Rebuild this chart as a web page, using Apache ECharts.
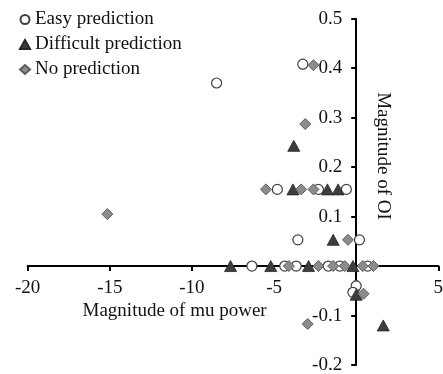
<!DOCTYPE html>
<html>
<head>
<meta charset="utf-8">
<script src="https://cdn.jsdelivr.net/npm/echarts@6/dist/echarts.min.js"></script>
<style>
  html, body { margin: 0; padding: 0; background: #fff; }
  #chart { width: 443px; height: 374px; }
</style>
</head>
<body>
<div id="chart"></div>
<script>
// values
const easyX = [-8.5, -3.25, -4.8, -2.3, -0.6, -3.55, 0.2, -6.35, -4.35, -3.65, -1.7, -1.0, 0.7, 0.0, -0.2]
const easyY = [0.37, 0.408, 0.155, 0.155, 0.155, 0.053, 0.053, 0, 0, 0, 0, 0, 0, -0.04, -0.053]

const hardX = [-3.8, -3.85, -1.75, -1.1, -1.4, -7.65, -5.2, -2.9, -0.2, 0.0, 1.65]
const hardY = [0.243, 0.155, 0.155, 0.155, 0.053, 0, 0, 0, 0, -0.058, -0.12]

const noneX = [-15.15, -2.6, -3.1, -5.5, -3.35, -2.6, -0.5, -4.1, -2.3, -1.4, -0.7, 0.4, 1.05, 0.45, -2.95]
const noneY = [0.105, 0.406, 0.287, 0.155, 0.155, 0.155, 0.053, 0, 0, 0, 0, 0, 0, -0.056, -0.117]

const seriesNames = ['Easy prediction', 'Difficult prediction', 'No prediction']

const font = 'Liberation Serif'

// plot area in px
const W = 443, H = 374
const gridL = 27.7, gridR = 4.7, gridT = 18.7, gridB = 9
const xMin = -20, xMax = 5, yMin = -0.2, yMax = 0.5

// axes cross at the origin: shift each axis from its grid edge to zero
const plotW = W - gridL - gridR
const plotH = H - gridT - gridB
const xAxisShift = -plotH * (0 - yMin) / (yMax - yMin)
const yAxisShift = -plotW * (0 - xMin) / (xMax - xMin)

function pairs(xs, ys) {
  return xs.map((x, i) => [x, ys[i]])
}

const chart = echarts.init(document.getElementById('chart'), null, { renderer: 'canvas' })

chart.setOption({
  animation: false,
  grid: { left: gridL, right: gridR, top: gridT, bottom: gridB, containLabel: false, outerBoundsMode: 'none' },
  legend: {
    orient: 'vertical',
    left: 14,
    top: 5,
    itemWidth: 10,
    itemHeight: 9,
    itemGap: 6,
    textStyle: { fontFamily: font, fontSize: 19, lineHeight: 19, color: '#111' },
    data: seriesNames
  },
  xAxis: {
    type: 'value',
    position: 'bottom',
    offset: xAxisShift,
    min: xMin,
    max: xMax,
    interval: 5,
    splitLine: { show: false },
    axisLine: { onZero: false, lineStyle: { color: '#000', width: 2 } },
    axisTick: { show: true, length: 5, lineStyle: { color: '#000', width: 2 } },
    axisLabel: { fontFamily: font, fontSize: 19, color: '#111', margin: 12 }
  },
  yAxis: {
    type: 'value',
    position: 'left',
    offset: yAxisShift,
    min: yMin,
    max: yMax,
    interval: 0.1,
    splitLine: { show: false },
    axisLine: { onZero: false, lineStyle: { color: '#000', width: 2 } },
    axisTick: { show: true, length: 5, lineStyle: { color: '#000', width: 2 } },
    axisLabel: {
      fontFamily: font, fontSize: 19, color: '#111', margin: 14,
      formatter: v => (Math.abs(v) < 1e-9 ? '' : String(Math.round(v * 10) / 10))
    }
  },
  graphic: [
    {
      type: 'text', x: 266.7, y: 311,
      style: { text: 'Magnitude of mu power', fontFamily: font, fontSize: 19, fill: '#111', align: 'right', verticalAlign: 'middle' }
    },
    {
      type: 'text', x: 383, y: 156, rotation: -Math.PI / 2,
      style: { text: 'Magnitude of OI', fontFamily: font, fontSize: 19, fill: '#111', align: 'center', verticalAlign: 'middle' }
    }
  ],
  series: [
    {
      name: seriesNames[0],
      type: 'scatter',
      symbol: 'circle',
      symbolSize: 10,
      itemStyle: { color: '#fff', borderColor: '#404040', borderWidth: 1.2, opacity: 1 },
      data: pairs(easyX, easyY)
    },
    {
      name: seriesNames[1],
      type: 'scatter',
      symbol: 'triangle',
      symbolSize: [12, 11],
      itemStyle: { color: '#3d3d3d', borderColor: '#262626', borderWidth: 0.8, opacity: 1 },
      data: pairs(hardX, hardY)
    },
    {
      name: seriesNames[2],
      type: 'scatter',
      symbol: 'diamond',
      symbolSize: 11,
      itemStyle: { color: '#8c8c8c', borderColor: '#5e5e5e', borderWidth: 1, opacity: 1 },
      data: pairs(noneX, noneY)
    }
  ]
})
</script>
</body>
</html>
